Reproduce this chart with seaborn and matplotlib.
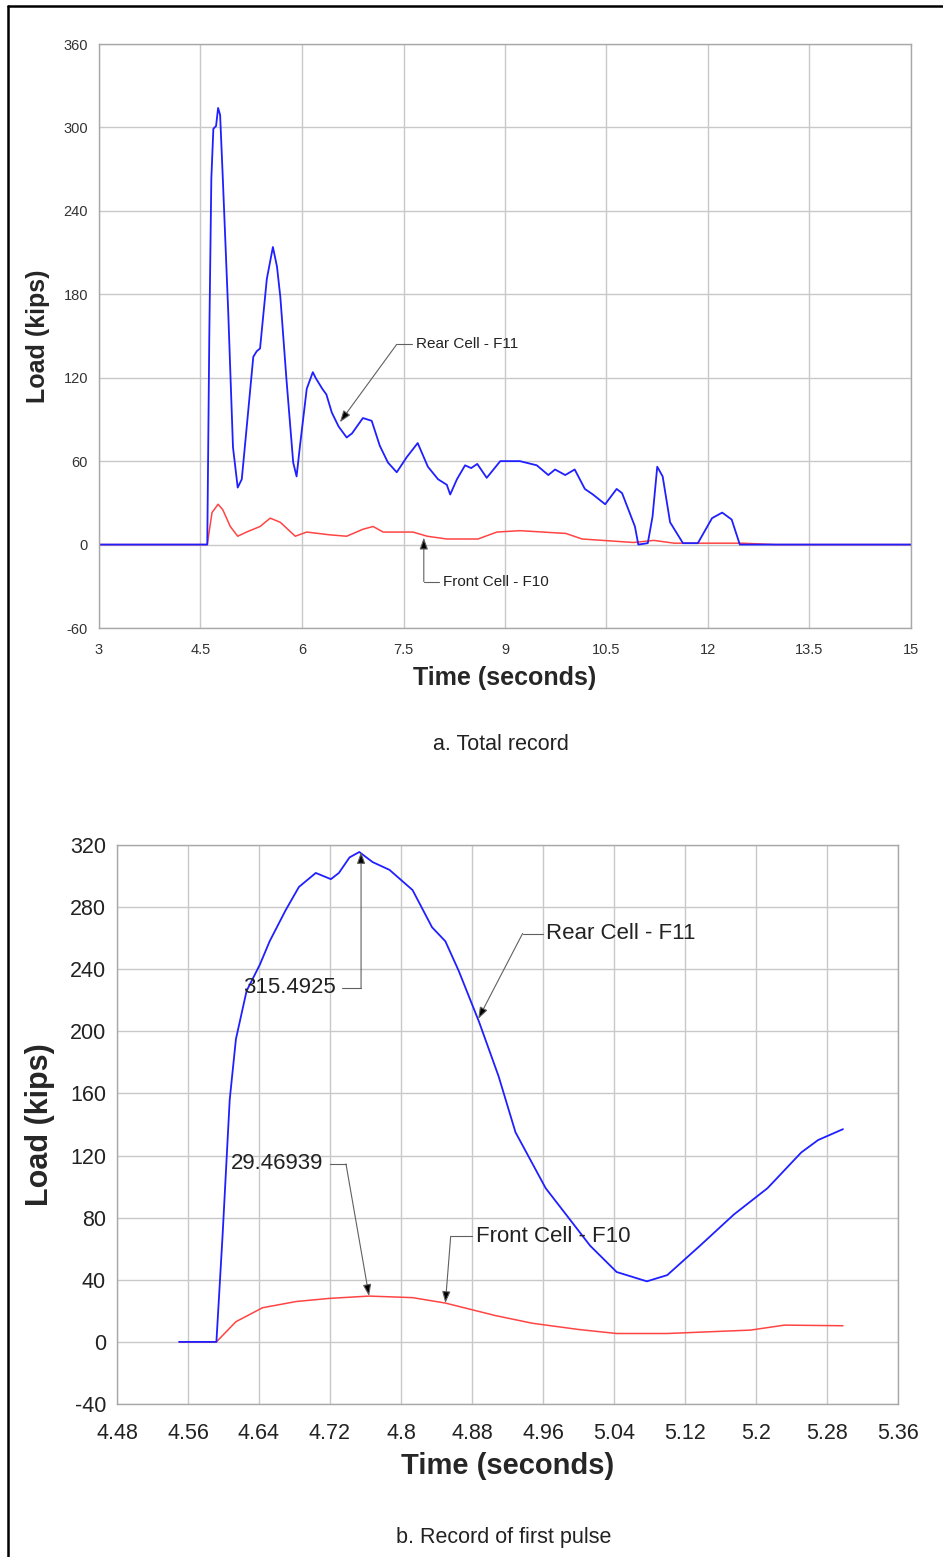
import matplotlib
matplotlib.use('Agg')
import matplotlib.pyplot as plt
import seaborn as sns
from matplotlib.lines import Line2D

# Values
# a. Total record
rear_t_total = [3.0, 4.60, 4.63, 4.66, 4.69, 4.73, 4.76, 4.79, 4.83, 4.91, 4.98, 5.05, 5.11, 5.18,
                5.28, 5.33, 5.38, 5.48, 5.57, 5.63, 5.68, 5.77, 5.87, 5.92, 5.97, 6.07, 6.16, 6.20,
                6.30, 6.36, 6.44, 6.54, 6.66, 6.74, 6.90, 7.03, 7.15, 7.27, 7.40, 7.55, 7.71, 7.86,
                8.01, 8.14, 8.19, 8.29, 8.41, 8.50, 8.59, 8.73, 8.93, 9.22, 9.47, 9.64, 9.74, 9.89,
                10.03, 10.18, 10.30, 10.48, 10.65, 10.73, 10.92, 10.97, 11.11, 11.18, 11.25, 11.33,
                11.44, 11.63, 11.85, 12.06, 12.21, 12.35, 12.47, 15.0]
rear_v_total = [0, 0, 150, 263, 299, 301, 314, 309, 263, 167, 70, 41, 47, 83,
                135, 139, 141, 191, 214, 200, 178, 119, 59, 49, 71, 112, 124, 120,
                112, 108, 95, 85, 77, 80, 91, 89, 71, 59, 52, 63, 73, 56,
                47, 43, 36, 47, 57, 55, 58, 48, 60, 60, 57, 50, 54, 50,
                54, 40, 36, 29, 40, 37, 13, 0, 1, 20, 56, 49,
                16, 1, 1, 19, 23, 18, 0, 0]
front_t_total = [3.0, 4.60, 4.67, 4.76, 4.83, 4.94, 5.05, 5.18, 5.38, 5.53, 5.68, 5.90, 6.07, 6.41,
                 6.66, 6.90, 7.05, 7.20, 7.64, 7.85, 8.14, 8.60, 8.88, 9.22, 9.90, 10.14, 10.90,
                 11.20, 11.50, 12.50, 13.0, 15.0]
front_v_total = [0, 0, 23, 29, 25, 13, 6, 9, 13, 19, 16, 6, 9, 7,
                 6, 11, 13, 9, 9, 6, 4, 4, 9, 10, 8, 4, 1.5,
                 3, 1, 1, 0, 0]

# b. Record of first pulse
rear_t_pulse = [4.55, 4.592, 4.599, 4.607, 4.614, 4.626, 4.641, 4.652, 4.670, 4.685, 4.704, 4.721,
                4.730, 4.742, 4.753, 4.768, 4.787, 4.813, 4.835, 4.850, 4.865, 4.888, 4.910, 4.929,
                4.963, 4.986, 5.013, 5.043, 5.077, 5.100, 5.137, 5.175, 5.213, 5.251, 5.270, 5.298]
rear_v_pulse = [0, 0, 69, 156, 195, 226, 243, 258, 278, 293, 302, 298,
                302, 312, 315.5, 309, 304, 291, 267, 258, 239, 206, 171, 135,
                99, 82, 62, 45, 39, 43, 62, 82, 99, 122, 130, 137]
front_t_pulse = [4.55, 4.592, 4.614, 4.644, 4.682, 4.719, 4.764, 4.813, 4.850, 4.906, 4.948,
                 5.000, 5.043, 5.100, 5.194, 5.232, 5.298]
front_v_pulse = [0, 0, 13, 22, 26, 28, 29.5, 28.5, 25, 17, 12,
                 8, 5.4, 5.4, 7.6, 10.8, 10.4]

xticks_total = [3, 4.5, 6, 7.5, 9, 10.5, 12, 13.5, 15]
xtick_labels_total = ['3', '4.5', '6', '7.5', '9', '10.5', '12', '13.5', '15']
yticks_total = [-60, 0, 60, 120, 180, 240, 300, 360]
xticks_pulse = [4.48, 4.56, 4.64, 4.72, 4.80, 4.88, 4.96, 5.04, 5.12, 5.20, 5.28, 5.36]
xtick_labels_pulse = ['4.48', '4.56', '4.64', '4.72', '4.8', '4.88', '4.96', '5.04', '5.12',
                      '5.2', '5.28', '5.36']
yticks_pulse = [-40, 0, 40, 80, 120, 160, 200, 240, 280, 320]

BLUE = '#1f1fff'
RED = '#ff4444'
GRID = '#c8c8c8'
LEADER = '#606060'

sns.set_style('white')
plt.rcParams['font.family'] = ['Liberation Sans', 'DejaVu Sans']
plt.rcParams['axes.unicode_minus'] = False

fig = plt.figure(figsize=(9.43, 15.57), dpi=100)
ax1 = fig.add_axes([99 / 943, 1 - 628 / 1557, 812 / 943, 584 / 1557])
ax2 = fig.add_axes([117 / 943, 1 - 1404 / 1557, 781 / 943, 559 / 1557])

# frame lines of the page (left and top)
fig.add_artist(Line2D([8 / 943, 8 / 943], [0, 1 - 6 / 1557], transform=fig.transFigure,
                      color='black', lw=1.8))
fig.add_artist(Line2D([8 / 943, 1], [1 - 6 / 1557, 1 - 6 / 1557], transform=fig.transFigure,
                      color='black', lw=1.8))


def style_axes(ax, xticks, xlabels, yticks, tick_size, tick_color, pad_x, pad_y):
    ax.set_xticks(xticks)
    ax.set_xticklabels(xlabels)
    ax.set_yticks(yticks)
    ax.set_xlim(xticks[0], xticks[-1])
    ax.set_ylim(yticks[0], yticks[-1])
    ax.grid(True, color=GRID, lw=1.0)
    ax.set_axisbelow(True)
    for s in ax.spines.values():
        s.set_color('#a8a8a8')
        s.set_linewidth(1.0)
    ax.tick_params(axis='x', length=0, labelsize=tick_size, labelcolor=tick_color, pad=pad_x)
    ax.tick_params(axis='y', length=0, labelsize=tick_size, labelcolor=tick_color, pad=pad_y)


def leader(ax, text, text_xy, elbow, tip, line_end, ha, size):
    ax.text(text_xy[0], text_xy[1], text, ha=ha, va='center', fontsize=size, color='#222222')
    ax.plot([elbow[0], line_end], [elbow[1], elbow[1]], color=LEADER, lw=0.8)
    ax.annotate('', xy=tip, xytext=elbow,
                arrowprops=dict(arrowstyle='-|>,head_length=0.7,head_width=0.25',
                                fc='black', ec=LEADER, lw=0.8, shrinkA=0, shrinkB=0))


# --- a. Total record ---
sns.lineplot(x=front_t_total, y=front_v_total, ax=ax1, color=RED, lw=1.1, sort=False)
sns.lineplot(x=rear_t_total, y=rear_v_total, ax=ax1, color=BLUE, lw=1.3, sort=False)
style_axes(ax1, xticks_total, xtick_labels_total, yticks_total, 10.5, '#333333', 11, 8)
ax1.set_xlabel('Time (seconds)', fontsize=18, fontweight='bold')
ax1.set_ylabel('Load (kips)', fontsize=18, fontweight='bold')
ax1.xaxis.set_label_coords(0.5, -0.065)
ax1.yaxis.set_label_coords(-0.060, 0.5)
leader(ax1, 'Rear Cell - F11', (7.68, 144), (7.40, 144), (6.56, 88), 7.62, 'left', 11)
leader(ax1, 'Front Cell - F10', (8.08, -26.6), (7.80, -26.6), (7.80, 5), 8.02, 'left', 11)
fig.text(501 / 943, 1 - 745 / 1557, 'a. Total record', ha='center', va='center',
         fontsize=15.5, color='#222222')

# --- b. Record of first pulse ---
sns.lineplot(x=front_t_pulse, y=front_v_pulse, ax=ax2, color=RED, lw=1.1, sort=False)
sns.lineplot(x=rear_t_pulse, y=rear_v_pulse, ax=ax2, color=BLUE, lw=1.3, sort=False)
style_axes(ax2, xticks_pulse, xtick_labels_pulse, yticks_pulse, 15.5, '#222222', 14, 8)
ax2.set_xlabel('Time (seconds)', fontsize=21, fontweight='bold')
ax2.set_ylabel('Load (kips)', fontsize=22, fontweight='bold')
ax2.xaxis.set_label_coords(0.5, -0.086)
ax2.yaxis.set_label_coords(-0.079, 0.5)
leader(ax2, '315.4925', (4.727, 228), (4.755, 228), (4.755, 315.5), 4.734, 'right', 16)
leader(ax2, '29.46939', (4.712, 114.6), (4.738, 114.6), (4.764, 29.5), 4.720, 'right', 16)
leader(ax2, 'Front Cell - F10', (4.884, 68), (4.856, 68), (4.850, 25), 4.880, 'left', 16)
leader(ax2, 'Rear Cell - F11', (4.963, 263), (4.937, 263), (4.887, 208), 4.960, 'left', 16)
fig.text(504 / 943, 1 - 1537 / 1557, 'b. Record of first pulse', ha='center', va='center',
         fontsize=15.5, color='#222222')

fig.savefig('out.png', dpi=100)
